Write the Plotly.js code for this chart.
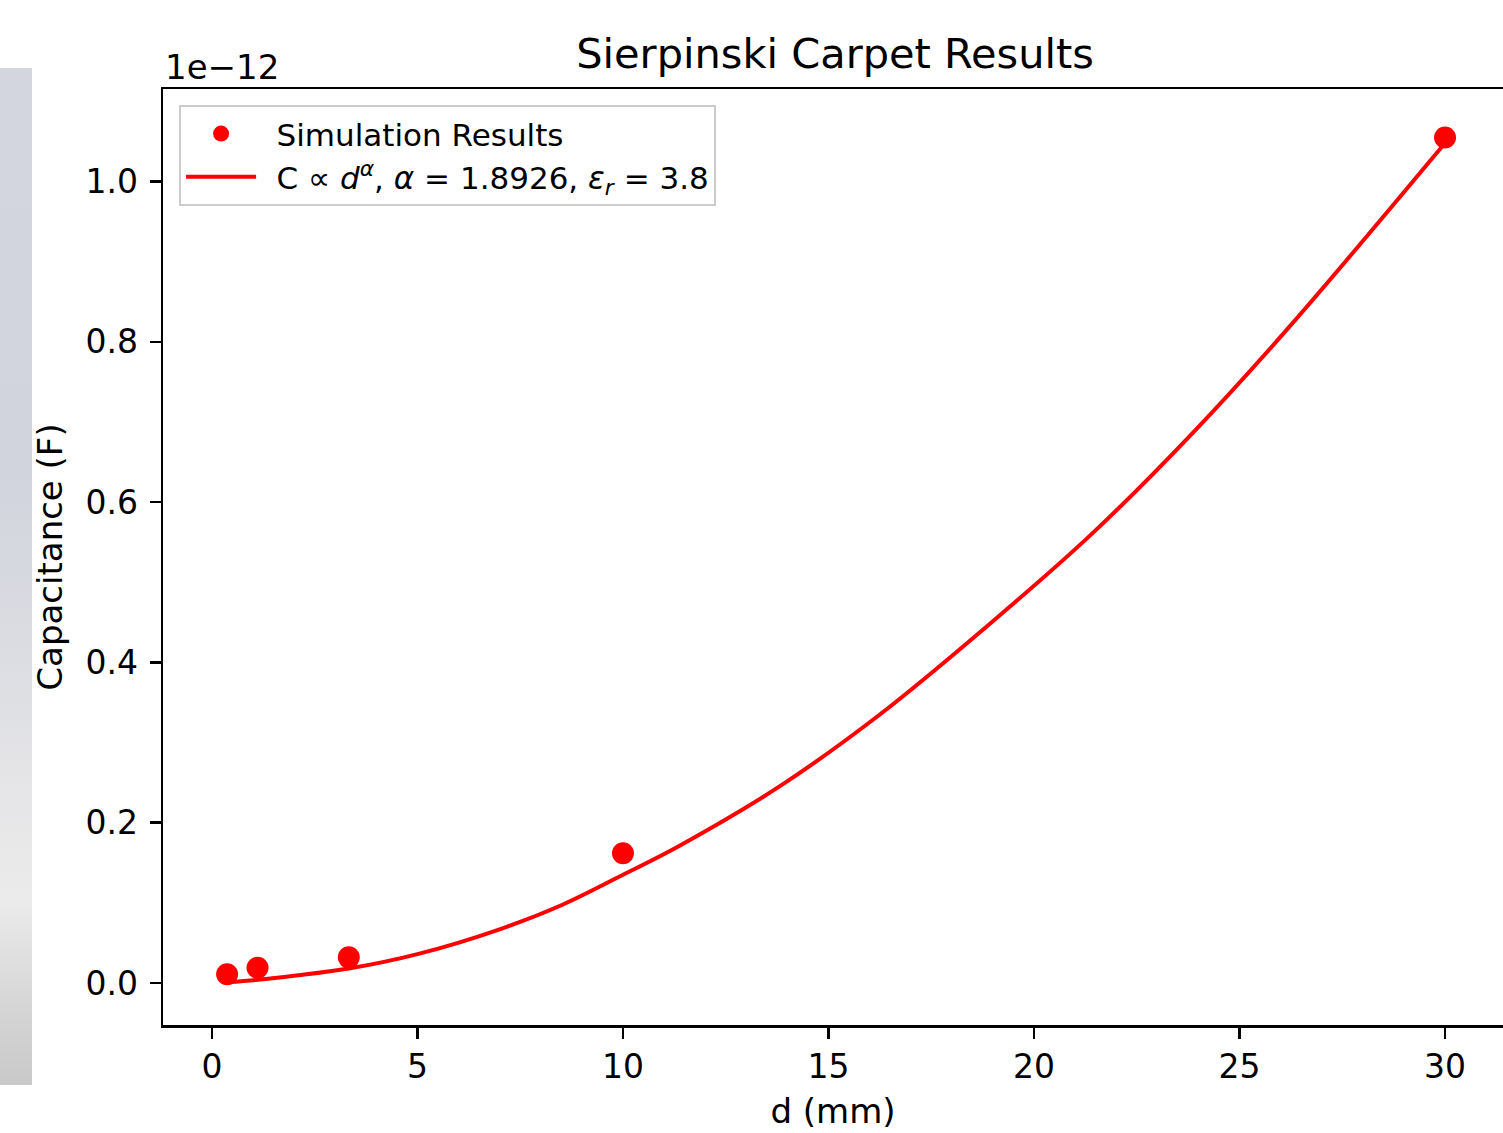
<!DOCTYPE html>
<html>
<head>
<meta charset="utf-8">
<script src="https://cdn.plot.ly/plotly-3.0.1.min.js"></script>
<style>
  html, body { margin: 0; padding: 0; background: #ffffff; }
  #chart { width: 1503px; height: 1133px; position: relative; }
  #strip { position: absolute; left: 0; top: 68px; width: 32px; height: 1017px; z-index: 5;
    background: linear-gradient(to bottom, #d3d6df 0%, #d1d4dd 40%, #dcdde2 58%, #e6e6e8 72%, #ebebeb 82%, #d6d6d6 92%, #c9c9c9 100%); }
</style>
</head>
<body>
<div id="strip"></div>
<div id="chart"></div>
<script>
// Simulation results: d in mm, capacitance in units of 1e-12 F
const simD = [0.37, 1.11, 3.33, 10, 30];
const simC = [0.011, 0.019, 0.032, 0.162, 1.055];

// Fitted power-law curve (units of 1e-12 F)
const fitD = [0.37, 1.11, 2.0, 3.33, 5.0, 7.0, 8.5, 10.0, 11.4, 13.8, 16.25, 18.9, 21.4, 23.8, 26.2, 30.0];
const fitC = [0.001, 0.004, 0.009, 0.018, 0.036, 0.067, 0.097, 0.135, 0.172, 0.245, 0.335, 0.447, 0.560, 0.683, 0.818, 1.048];

const xTicks = [0, 5, 10, 15, 20, 25, 30];
const yTicks = [0.0, 0.2, 0.4, 0.6, 0.8, 1.0];
const yTickText = ['0.0', '0.2', '0.4', '0.6', '0.8', '1.0'];

const FONT = 'DejaVu Sans, sans-serif';

const traces = [
  {
    x: simD, y: simC, type: 'scatter', mode: 'markers',
    name: '\u2002Simulation Results',
    marker: { color: '#ff0000', size: 22 },
    cliponaxis: false
  },
  {
    x: fitD, y: fitC, type: 'scatter', mode: 'lines',
    name: '\u2002C \u221D <i>d</i><sup><i>\u03B1</i></sup>, <i>\u03B1</i> = 1.8926, <i>\u03B5<sub>r</sub></i> = 3.8',
    line: { color: '#ff0000', width: 4, shape: 'spline', smoothing: 1.0 }
  }
];

const layout = {
  width: 1503, height: 1133,
  margin: { l: 163, r: 0, t: 89, b: 108 },
  paper_bgcolor: 'rgba(0,0,0,0)',
  plot_bgcolor: '#ffffff',
  font: { family: FONT, color: '#000000', size: 32 },
  showlegend: true,
  title: {
    text: 'Sierpinski Carpet Results',
    font: { family: FONT, size: 41.5, color: '#000000' },
    xref: 'container', yref: 'container',
    x: 0.5556, xanchor: 'center', y: 0.953, yanchor: 'middle'
  },
  xaxis: {
    range: [-1.19, 31.41],
    tickvals: xTicks, ticktext: xTicks.map(String),
    ticks: 'outside', ticklen: 11, tickwidth: 2.5, tickcolor: '#000',
    showline: true, linewidth: 2.5, linecolor: '#000', mirror: true,
    showgrid: false, zeroline: false,
    tickfont: { family: FONT, size: 33 },
    title: { text: 'd (mm)', font: { family: FONT, size: 34 }, standoff: 14 }
  },
  yaxis: {
    range: [-0.0524, 1.1154],
    tickvals: yTicks, ticktext: yTickText,
    ticks: 'outside', ticklen: 11, tickwidth: 2.5, tickcolor: '#000',
    ticklabelstandoff: 5,
    showline: true, linewidth: 2.5, linecolor: '#000', mirror: false,
    showgrid: false, zeroline: false,
    tickfont: { family: FONT, size: 33 },
    title: { text: 'Capacitance (F)', font: { family: FONT, size: 34 }, standoff: 13 }
  },
  legend: {
    x: 0.012, xanchor: 'left', y: 0.983, yanchor: 'top',
    bgcolor: '#ffffff', bordercolor: '#cccccc', borderwidth: 2,
    font: { family: FONT, size: 31 },
    itemwidth: 70,
    tracegroupgap: 0
  },
  annotations: [
    {
      text: '1e\u221212', xref: 'paper', yref: 'paper', x: 0, y: 1,
      xanchor: 'left', yanchor: 'bottom', yshift: 0, showarrow: false,
      font: { family: FONT, size: 34, color: '#000' }
    }
  ]
};

Plotly.newPlot('chart', traces, layout, { displayModeBar: false, staticPlot: true });
</script>
</body>
</html>
